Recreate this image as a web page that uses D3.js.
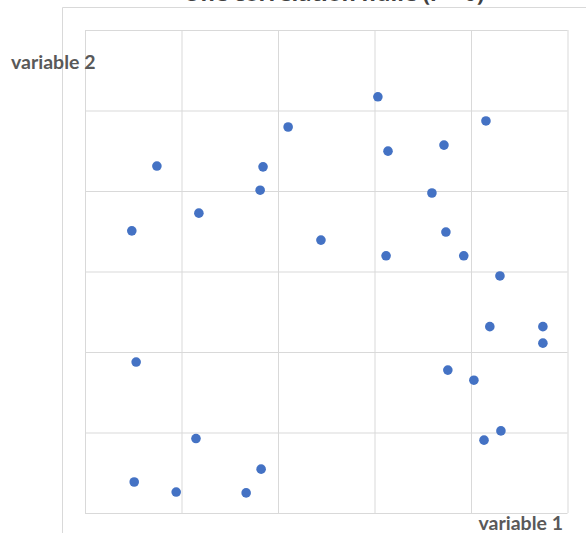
<!DOCTYPE html>
<html>
<head>
<meta charset="utf-8">
<script src="https://cdn.jsdelivr.net/npm/d3@7"></script>
<style>
  body { margin: 0; background: #fff; }
  svg { display: block; }
</style>
</head>
<body>
<svg id="chart" width="586" height="533"></svg>
<script>
// values
const variable1 = [6.07, 8.31, 4.21, 7.44, 6.28, 1.49, 3.69, 3.63, 7.19, 2.36,
  0.97, 7.48, 4.89, 6.24, 7.85, 8.60, 8.39, 9.49, 9.49, 1.06,
  7.52, 8.06, 8.62, 8.27, 2.30, 3.65, 1.02, 1.89, 3.34];
const variable2 = [10.34, 9.74, 9.59, 9.14, 8.99, 8.62, 8.60, 8.02, 7.95, 7.45,
  7.01, 6.98, 6.78, 6.39, 6.39, 5.89, 4.63, 4.63, 4.22, 3.75,
  3.55, 3.30, 2.04, 1.81, 1.85, 1.09, 0.77, 0.52, 0.50];
const xTicks = [0, 2, 4, 6, 8, 10];
const yTicks = [0, 2, 4, 6, 8, 10, 12];
const titleText = "Une corrélation nulle (r ≈ 0)";
const xTitle = "variable 1";
const yTitle = "variable 2";

var dimensions = {
  width: 586,
  height: 533,
  margin: { top: 30, right: 18.5, bottom: 20, left: 85 },
};
dimensions.boundedWidth =
  dimensions.width - dimensions.margin.left - dimensions.margin.right;
dimensions.boundedHeight =
  dimensions.height - dimensions.margin.top - dimensions.margin.bottom;

var svg = d3.select("#chart");

// outer chart frame (only top and left edges are in view)
svg.append("path")
  .attr("d", "M62.5,533 V7.5 H586")
  .attr("fill", "none")
  .attr("stroke", "#d9d9d9")
  .attr("stroke-width", 1);

// title, cut off by the top edge like in the screenshot
svg.append("text")
  .attr("x", 334)
  .attr("y", 0.8)
  .attr("text-anchor", "middle")
  .style("font", "bold 22px 'Open Sans', sans-serif")
  .attr("fill", "#404040")
  .text(titleText);

var xScale = d3.scaleLinear()
  .domain([0, 10])
  .range([0, dimensions.boundedWidth]);
var yScale = d3.scaleLinear()
  .domain([0, 12])
  .range([dimensions.boundedHeight, 0]);

var bounds = svg.append("g")
  .attr("transform",
    "translate(" + dimensions.margin.left + "," + dimensions.margin.top + ")");

// gridlines through the axes, no tick labels
bounds.append("g")
  .attr("transform", "translate(0," + dimensions.boundedHeight + ")")
  .call(d3.axisBottom(xScale).tickValues(xTicks)
    .tickSize(-dimensions.boundedHeight).tickFormat(""))
  .call(g => g.select(".domain").remove())
  .call(g => g.selectAll(".tick line").attr("stroke", "#d9d9d9"));

bounds.append("g")
  .call(d3.axisLeft(yScale).tickValues(yTicks)
    .tickSize(-dimensions.boundedWidth).tickFormat(""))
  .call(g => g.select(".domain").remove())
  .call(g => g.selectAll(".tick line").attr("stroke", "#d9d9d9"));

// points
bounds.selectAll("circle")
  .data(variable1)
  .enter()
  .append("circle")
  .attr("cx", (d) => xScale(d))
  .attr("cy", (d, i) => yScale(variable2[i]))
  .attr("r", 4.8)
  .attr("fill", "#4472c4");

// axis titles
svg.append("text")
  .attr("x", 11)
  .attr("y", 69)
  .style("font", "bold 19.5px Lato, sans-serif")
  .attr("fill", "#595959")
  .text(yTitle);

svg.append("text")
  .attr("x", 563)
  .attr("y", 530)
  .attr("text-anchor", "end")
  .style("font", "bold 19.5px Lato, sans-serif")
  .attr("fill", "#595959")
  .text(xTitle);
</script>
</body>
</html>
